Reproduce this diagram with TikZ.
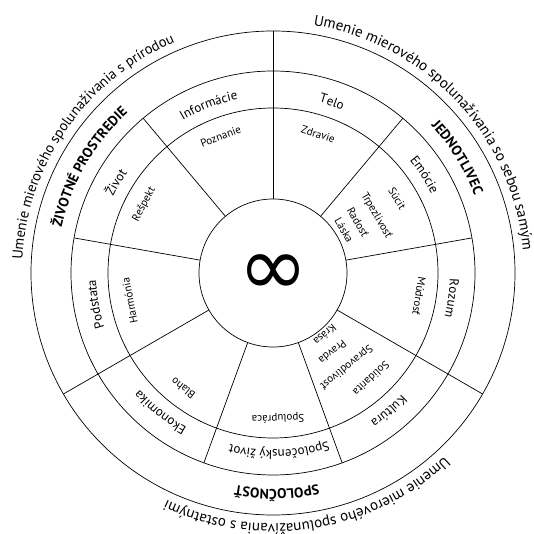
\documentclass[tikz,border=0pt]{standalone}
\usepackage{fontspec}
\setmainfont{PT Sans}
\newfontfamily\symfont{DejaVu Sans}
\usetikzlibrary{decorations.text}

% Text entlang eines Kreisbogens (Radius, Mittenwinkel, Schrift, Text)
\newcommand{\bogentext}[4]{%
  \path[decorate, decoration={text along path, text align=center, text={|#3|#4}}]
    ({#2+85}:#1) arc[start angle={#2+85}, end angle={#2-85}, radius=#1];}

\begin{document}
\begin{tikzpicture}[x=1pt, y=1pt,
        linie/.style={line width=0.7pt},
        klein/.style={font=\fontsize{11}{13}\selectfont, inner sep=0pt},
        ]
        % Bildbereich
        \useasboundingbox (-273,-261) rectangle (261,273);
        % Kreise zeichnen
        \foreach \r in {74,165,202,242} \draw[linie] (0,0) circle (\r);
        % Speichen zeichnen
        \foreach \w in {90,-30,-150} \draw[linie] (\w:74) -- (\w:242);
        \foreach \w in {50,10,-70,-110,170,130} \draw[linie] (\w:74) -- (\w:202);
        % Mitte
        \node (unendlich) at (0,-2) {\symfont\fontsize{84}{84}\selectfont ∞};
        % Aeusserer Text
        \bogentext{251}{43}{\fontsize{15}{18}\selectfont}{Umenie mierového spolunažívania so sebou samým}
        \bogentext{251}{-81}{\fontsize{15}{18}\selectfont}{Umenie mierového spolunažívania s ostatnými}
        \bogentext{251}{145}{\fontsize{14.5}{18}\selectfont}{Umenie mierového spolunažívania s prírodou}
        % Bereiche
        \bogentext{216}{32}{\fontsize{14}{16}\selectfont\bfseries}{JEDNOTLIVEC}
        \bogentext{216}{-89}{\fontsize{14}{16}\selectfont\bfseries}{SPOLOČNOSŤ}
        \bogentext{216}{150}{\fontsize{14}{16}\selectfont\bfseries}{ŽIVOTNÉ PROSTREDIE}
        % Ring
        \bogentext{177}{71}{\fontsize{13}{15}\selectfont}{Telo}
        \bogentext{177}{33}{\fontsize{13}{15}\selectfont}{Emócie}
        \bogentext{177}{-8}{\fontsize{13}{15}\selectfont}{Rozum}
        \bogentext{177}{-50}{\fontsize{13}{15}\selectfont}{Kultúra}
        \bogentext{177}{-88}{\fontsize{13}{15}\selectfont}{Spoločenský život}
        \bogentext{177}{231}{\fontsize{13}{15}\selectfont}{Ekonomika}
        \bogentext{177}{190}{\fontsize{13}{15}\selectfont}{Podstata}
        \bogentext{177}{150}{\fontsize{13}{15}\selectfont}{Život}
        \bogentext{177}{111}{\fontsize{13}{15}\selectfont}{Informácie}
        % Innen
        \node[klein, rotate=-18] (zdravie) at (72:146) {Zdravie};
        \node[klein, rotate=-59] (sucit) at (31:145) {Súcit};
        \node[klein, rotate=-60] (trpezlivost) at (29:118) {Trpezlivosť};
        \node[klein, rotate=-60] (radost) at (31:99) {Radosť};
        \node[klein, rotate=-60] (laska) at (31:83) {Láska};
        \node[klein, rotate=-99] (mudrost) at (-9:148) {Múdrosť};
        \node[klein, rotate=-137] (solidarita) at (-47:144) {Solidarita};
        \node[klein, rotate=-141] (spravodlivost) at (-52:119) {Spravodlivosť};
        \node[klein, rotate=-142] (pravda) at (-53:99) {Pravda};
        \node[klein, rotate=-140] (krasa) at (-50:81) {Krása};
        \node[klein, rotate=-178] (spolupraca) at (-88:145) {Spolupráca};
        \node[klein, rotate=142] (blaho) at (232:146) {Blaho};
        \node[klein, rotate=101] (harmonia) at (191:146) {Harmónia};
        \node[klein, rotate=62] (respekt) at (152:146) {Rešpekt};
        \node[klein, rotate=21] (poznanie) at (111:146) {Poznanie};
\end{tikzpicture}
\end{document}
